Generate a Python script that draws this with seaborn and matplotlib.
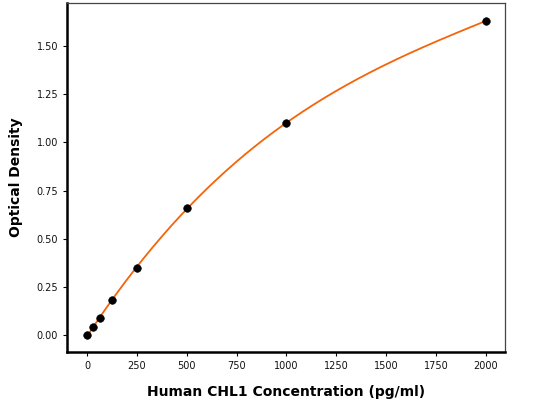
import numpy as np
import pandas as pd
import matplotlib
matplotlib.use('Agg')
import matplotlib.pyplot as plt
import seaborn as sbn

# standard curve data
conc = [0, 31.25, 62.5, 125, 250, 500, 1000, 2000]
od = [0.0, 0.04, 0.09, 0.18, 0.35, 0.66, 1.10, 1.63]

df = pd.DataFrame({'conc': conc, 'od': od})

# smooth fitted curve through the standards
coef = np.polyfit(df['conc'], df['od'], 3)
xs = np.linspace(0, max(conc), 300)
fit = pd.DataFrame({'conc': xs, 'od': np.polyval(coef, xs)})

sbn.set_style('white')
fig = plt.figure(figsize=(5.33, 4), dpi=100)
ax = fig.add_axes([0.126, 0.12, 0.821, 0.8725])

sbn.lineplot(data=fit, x='conc', y='od', color='#f5640a', linewidth=1.3, ax=ax)
sbn.scatterplot(data=df, x='conc', y='od', color='black', s=30, edgecolor='black', zorder=3, ax=ax)

ax.set_xlim(-100, 2095)
ax.set_ylim(-0.088, 1.723)
ax.set_xticks(np.arange(0, 2001, 250))
ax.set_yticks(np.arange(0, 1.51, 0.25))
ax.set_yticklabels([f'{v:.2f}' for v in np.arange(0, 1.51, 0.25)])
ax.tick_params(axis='both', labelsize=7, length=3, width=0.8, color='black', labelcolor='#111111',
               direction='out', bottom=True, left=True)

ax.set_xlabel('Human CHL1 Concentration (pg/ml)', fontsize=10, fontweight='bold', labelpad=10, color='black')
ax.set_ylabel('Optical Density', fontsize=10, fontweight='bold', labelpad=10, color='black')

for side in ['left', 'bottom']:
    ax.spines[side].set_color('black')
    ax.spines[side].set_linewidth(1.8)
for side in ['top', 'right']:
    ax.spines[side].set_color('#444444')
    ax.spines[side].set_linewidth(0.9)

fig.savefig('out.png', dpi=100)
